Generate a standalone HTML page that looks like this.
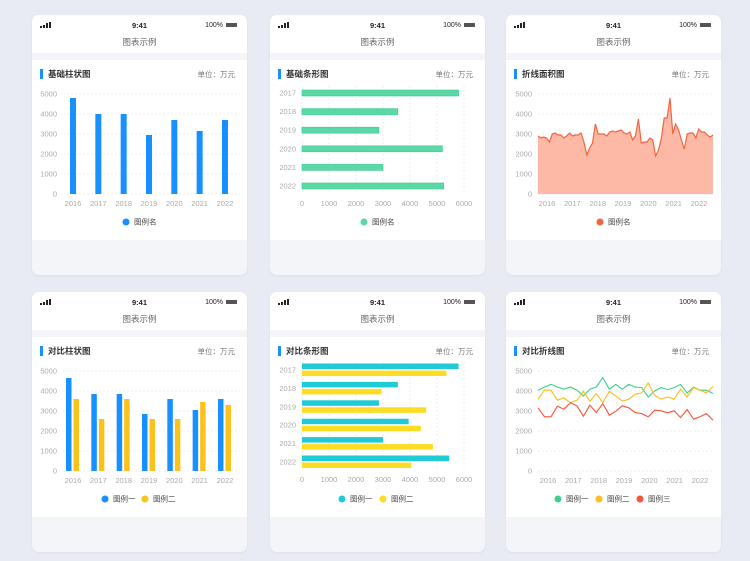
<!DOCTYPE html>
<html><head><meta charset="utf-8">
<style>
*{margin:0;padding:0;box-sizing:border-box}
body{width:750px;height:561px;background:#e9ebf4;position:relative;overflow:hidden;font-family:"Liberation Sans","Noto Sans CJK SC",sans-serif}
.card{position:absolute;width:215px;height:260px;border-radius:7px;background:#f4f5f9;overflow:hidden;box-shadow:0 1px 3px rgba(0,0,0,.05)}
.top{position:absolute;left:0;top:0;width:215px;height:38px;background:#fff}
.sig{position:absolute;left:8px;top:7px;width:14px;height:6px}
.sig b{position:absolute;bottom:0;width:2px;background:#222}
.time{position:absolute;left:0;width:215px;top:6px;text-align:center;font-size:7.5px;font-weight:bold;color:#222}
.bat{position:absolute;right:10px;top:6px;font-size:7px;color:#222;line-height:9px}
.bat i{display:inline-block;width:11px;height:4px;background:#555;margin-left:3px;vertical-align:middle}
.ptitle{position:absolute;left:0;width:215px;top:21px;text-align:center;font-size:8.5px;color:#666}
.panel{position:absolute;left:0;top:45px;width:215px;height:180px;background:#fff}
.ct{position:absolute;left:16px;top:8px;font-size:8.5px;font-weight:bold;color:#333}
.ct:before{content:"";position:absolute;left:-8px;top:1px;width:3px;height:10px;background:#1890ff}
.unit{position:absolute;right:12px;top:9px;font-size:7.5px;color:#777}
svg{position:absolute;left:0;top:0}
</style></head><body>
<div class="card" style="left:32px;top:15px"><div class="top"><span class="sig"><b style="left:0;height:2px"></b><b style="left:3px;height:3px"></b><b style="left:6px;height:5px"></b><b style="left:9px;height:6px"></b></span><div class="time">9:41</div><div class="bat">100%<i></i></div><div class="ptitle">图表示例</div></div><div class="panel"><div class="ct">基础柱状图</div><div class="unit">单位：万元</div></div></div>
<div class="card" style="left:270px;top:15px"><div class="top"><span class="sig"><b style="left:0;height:2px"></b><b style="left:3px;height:3px"></b><b style="left:6px;height:5px"></b><b style="left:9px;height:6px"></b></span><div class="time">9:41</div><div class="bat">100%<i></i></div><div class="ptitle">图表示例</div></div><div class="panel"><div class="ct">基础条形图</div><div class="unit">单位：万元</div></div></div>
<div class="card" style="left:506px;top:15px"><div class="top"><span class="sig"><b style="left:0;height:2px"></b><b style="left:3px;height:3px"></b><b style="left:6px;height:5px"></b><b style="left:9px;height:6px"></b></span><div class="time">9:41</div><div class="bat">100%<i></i></div><div class="ptitle">图表示例</div></div><div class="panel"><div class="ct">折线面积图</div><div class="unit">单位：万元</div></div></div>
<div class="card" style="left:32px;top:292px"><div class="top"><span class="sig"><b style="left:0;height:2px"></b><b style="left:3px;height:3px"></b><b style="left:6px;height:5px"></b><b style="left:9px;height:6px"></b></span><div class="time">9:41</div><div class="bat">100%<i></i></div><div class="ptitle">图表示例</div></div><div class="panel"><div class="ct">对比柱状图</div><div class="unit">单位：万元</div></div></div>
<div class="card" style="left:270px;top:292px"><div class="top"><span class="sig"><b style="left:0;height:2px"></b><b style="left:3px;height:3px"></b><b style="left:6px;height:5px"></b><b style="left:9px;height:6px"></b></span><div class="time">9:41</div><div class="bat">100%<i></i></div><div class="ptitle">图表示例</div></div><div class="panel"><div class="ct">对比条形图</div><div class="unit">单位：万元</div></div></div>
<div class="card" style="left:506px;top:292px"><div class="top"><span class="sig"><b style="left:0;height:2px"></b><b style="left:3px;height:3px"></b><b style="left:6px;height:5px"></b><b style="left:9px;height:6px"></b></span><div class="time">9:41</div><div class="bat">100%<i></i></div><div class="ptitle">图表示例</div></div><div class="panel"><div class="ct">对比折线图</div><div class="unit">单位：万元</div></div></div>
<svg id="s" width="750" height="561"></svg>
<script>
const years = ["2016","2017","2018","2019","2020","2021","2022"];
const barYears = ["2017","2018","2019","2020","2021","2022"];
const valTicks = [0,1000,2000,3000,4000,5000];
const hTicks = [0,1000,2000,3000,4000,5000,6000];
const colVals = [4800,4000,4000,2950,3700,3150,3700];
const hbarVals = [5800,3550,2850,5200,3000,5250];
const areaVals = [2900,2800,2850,2800,2600,3000,3050,2950,2950,2800,2900,3050,2900,2950,2950,3050,2600,1950,2300,2550,3500,3000,3000,3000,2900,3100,3150,3100,3150,3200,3050,3000,3100,2700,2900,3750,2550,2600,2600,2800,2700,1900,2200,2800,3800,3800,4800,3000,3500,3200,2700,2250,3000,3050,3050,2800,3250,3100,3100,2950,2850,2950];
const cmpA = [4650,3850,3850,2850,3600,3050,3600];
const cmpB = [3600,2600,3600,2600,2600,3450,3300];
const hA = [5800,3550,2850,3950,3000,5450];
const hB = [5350,2950,4600,4400,4850,4050];
const lineG = [4040,4200,4330,4200,4090,4200,4040,3750,4090,4200,4670,4090,4330,4090,4330,4200,4170,3700,4000,4170,4070,4170,4330,3900,4200,4040,4040,3870];
const lineY = [3590,4040,4040,3540,3650,3420,3540,3990,3490,3870,3420,3990,3750,3490,3590,3840,3900,4400,3790,3590,3700,3590,4090,3700,4170,4040,3900,4240];
const lineR = [3160,2710,2710,3240,3090,3410,3260,2740,3290,2920,3370,2790,2990,3260,3160,2920,2870,2710,3040,3010,2910,3010,2670,3070,2590,2710,2870,2540];

const S=document.getElementById('s');
const NS='http://www.w3.org/2000/svg';
function mk(tag,a){const e=document.createElementNS(NS,tag);for(const k in a)e.setAttribute(k,a[k]);S.appendChild(e);return e;}
function txt(x,y,t,anchor,fill,size){const e=mk('text',{x:x,y:y,'text-anchor':anchor||'middle',fill:fill||'#aaa','font-size':size||7.5,'font-family':'Liberation Sans, Noto Sans CJK SC, sans-serif'});e.textContent=t;return e;}
function vScale(y0,y1,max){return v=>y0-(v/max)*(y0-y1);}
function hScale(x0,x1,max){return v=>x0+(v/max)*(x1-x0);}
function vGrid(yS,x0,x1,labX){valTicks.forEach(t=>{const l=mk('line',{x1:x0,x2:x1,y1:yS(t),y2:yS(t),stroke:'#eee','stroke-dasharray':'2,2'});


const e=txt(labX,yS(t)+2.5,String(t),'end');

});}
function hGrid(xS,y0,y1,labY){hTicks.forEach(t=>{const l=mk('line',{x1:xS(t),x2:xS(t),y1:y0,y2:y1,stroke:'#eee','stroke-dasharray':'2,2'});


const e=txt(xS(t),labY,String(t));

});}
function legend(x,y,color,label){const c=mk('circle',{cx:x,cy:y,r:3.5,fill:color});


const t=txt(x+8,y+2.5,label,'start','#444',7.5);

}
function catX(x0,step){return i=>x0+i*step;}

// Chart 1
(function(){const yS=vScale(194,94,5000);vGrid(yS,63,240,57);const xS=catX(73,25.33);
colVals.forEach((v,i)=>{const r=mk('rect',{x:xS(i)-3,y:yS(v),width:6,height:194-yS(v),fill:'#1890ff'});

});
years.forEach((y,i)=>{const t=txt(xS(i),206,y);

});
legend(126,222,'#1890ff','图例名');})();

// Chart 2
(function(){const xS=hScale(302,464,6000);hGrid(xS,86,194,206);const yS=catX(93,18.6);
hbarVals.forEach((v,i)=>{const r=mk('rect',{x:302,y:yS(i)-3,width:xS(v)-302,height:6,fill:'#5ad8a6',stroke:'#3ecb8e','stroke-width':0.6});

});
barYears.forEach((y,i)=>{const t=txt(296,yS(i)+2.5,y,'end');

});
legend(364,222,'#5ad8a6','图例名');})();

// Chart 3
(function(){const yS=vScale(194,94,5000);vGrid(yS,538,714,532);const n=areaVals.length;const xS=i=>538+i*(175/(n-1));
let d='M538,194 ';areaVals.forEach((v,i)=>{d+='L'+xS(i).toFixed(1)+','+yS(v).toFixed(1)+' ';});d+='L713,194 Z';
const a=mk('path',{d:d,fill:'#fdb8a6'});


const pts=areaVals.map((v,i)=>xS(i).toFixed(1)+','+yS(v).toFixed(1)).join(' ');
const l=mk('polyline',{points:pts,fill:'none',stroke:'#f4643f','stroke-width':1.2});


years.forEach((y,i)=>{const t=txt(547+i*25.33,206,y);

});
legend(600,222,'#f4643f','图例名');})();

// Chart 4
(function(){const yS=vScale(471,371,5000);vGrid(yS,63,240,57);const xS=catX(73,25.33);
cmpA.forEach((v,i)=>{const r=mk('rect',{x:xS(i)-7,y:yS(v),width:5.5,height:471-yS(v),fill:'#1890ff'});

});
cmpB.forEach((v,i)=>{const r=mk('rect',{x:xS(i)+0.5,y:yS(v),width:5.5,height:471-yS(v),fill:'#fcc21b'});

});
years.forEach((y,i)=>{const t=txt(xS(i),483,y);

});
legend(105,499,'#1890ff','图例一');legend(145,499,'#fcc21b','图例二');})();

// Chart 5
(function(){const xS=hScale(302,464,6000);hGrid(xS,362,470,482);const yS=catX(370,18.4);
hA.forEach((v,i)=>{const r=mk('rect',{x:302,y:yS(i)-6.5,width:xS(v)-302,height:5.5,fill:'#1fcbd6'});

});
hB.forEach((v,i)=>{const r=mk('rect',{x:302,y:yS(i)+0.5,width:xS(v)-302,height:5.5,fill:'#fddc23'});

});
barYears.forEach((y,i)=>{const t=txt(296,yS(i)+2.5,y,'end');

});
legend(342,499,'#1fcbd6','图例一');legend(383,499,'#fddc23','图例二');})();

// Chart 6
(function(){const yS=vScale(471,371,5000);vGrid(yS,538,714,532);
function line(vals,color,name){const n=vals.length;const xS=i=>538+i*(175/(n-1));
const l=mk('polyline',{points:vals.map((v,i)=>xS(i).toFixed(1)+','+yS(v).toFixed(1)).join(' '),fill:'none',stroke:color,'stroke-width':1.1});

}
line(lineG,'#3ccf8e','line-series-1');line(lineY,'#fcbd1e','line-series-2');line(lineR,'#f4563a','line-series-3');
years.forEach((y,i)=>{const t=txt(548+i*25.33,483,y);

});
legend(558,499,'#3ccf8e','图例一');legend(599,499,'#fcbd1e','图例二');legend(640,499,'#f4563a','图例三');})();
</script>
</body></html>
